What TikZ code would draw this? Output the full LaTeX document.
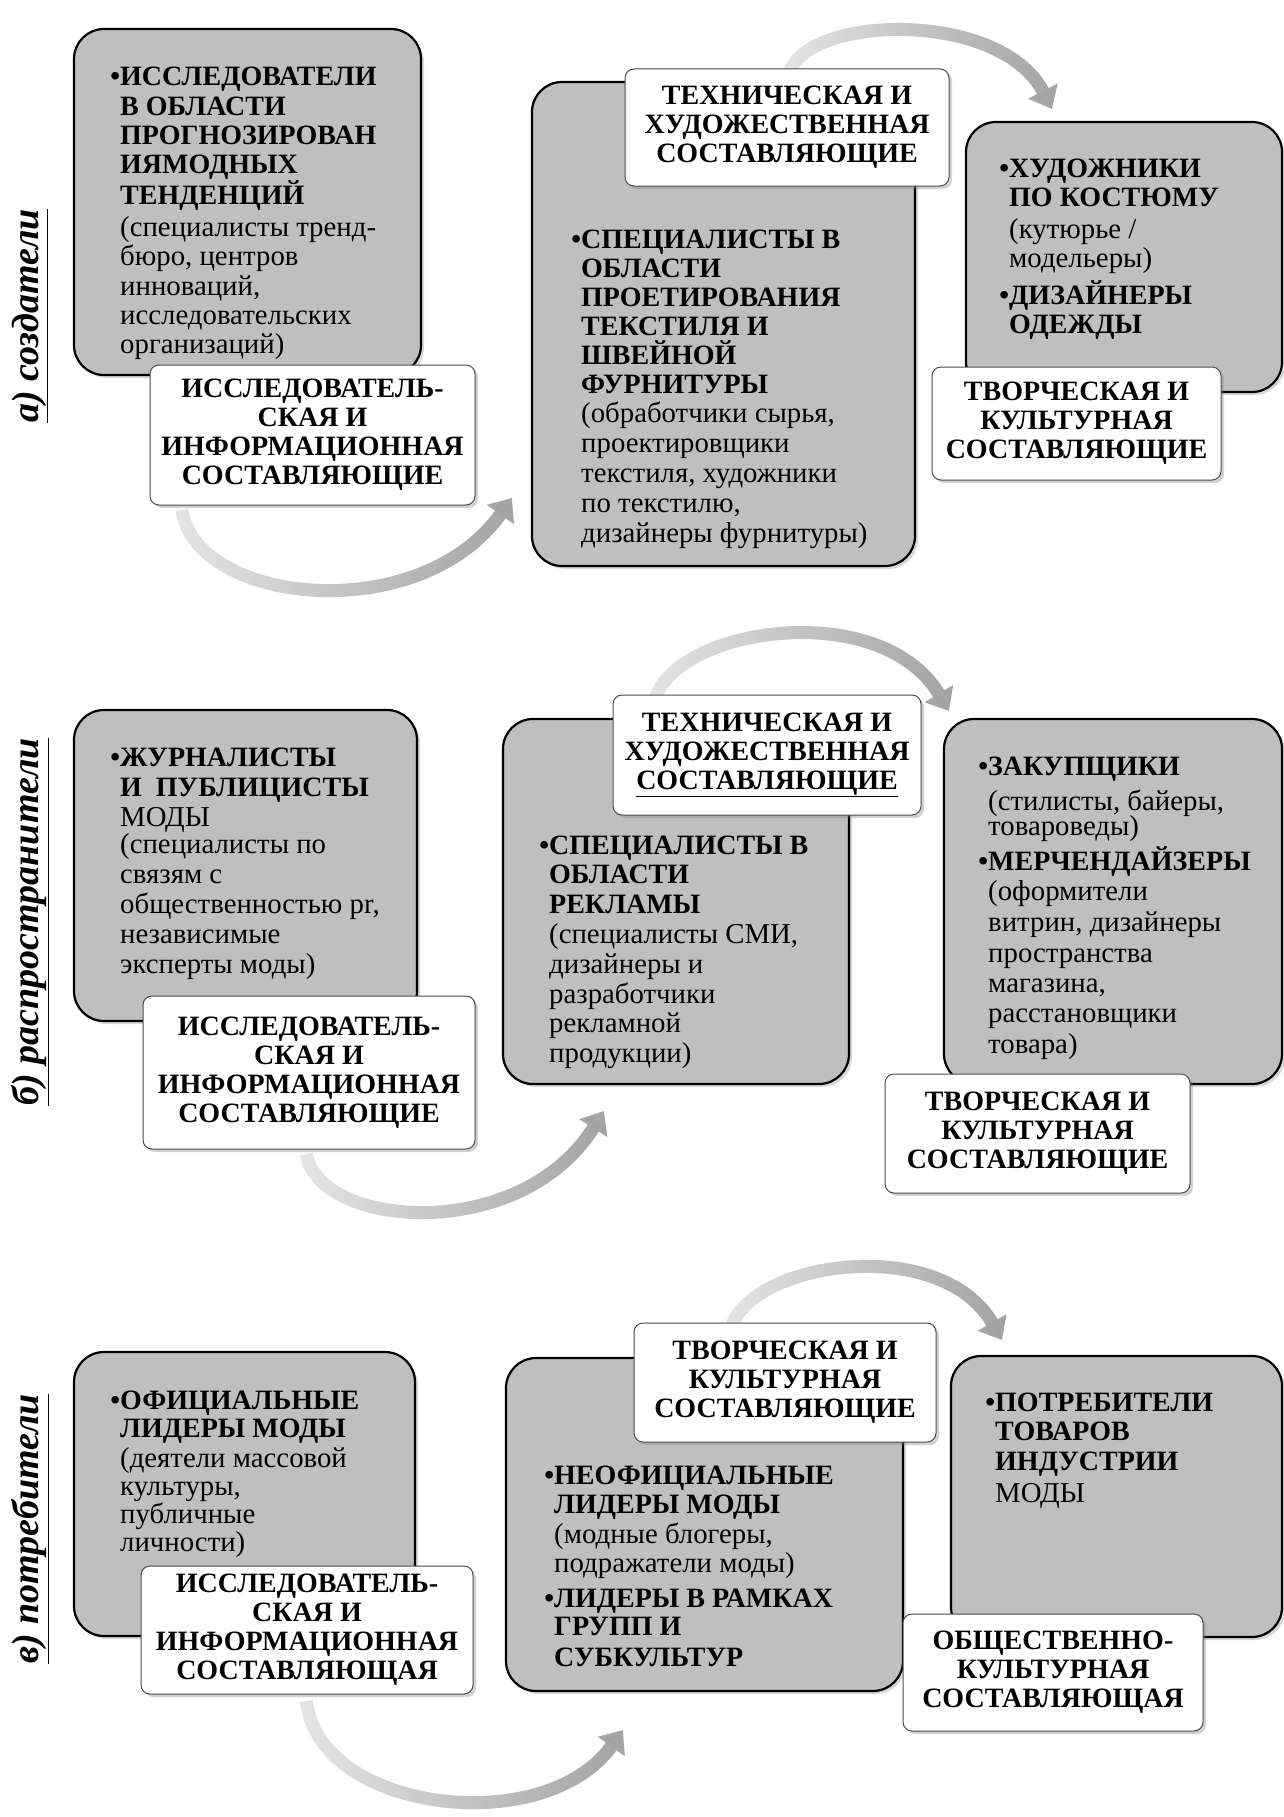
\documentclass[tikz,border=0pt]{standalone}
\usepackage{fontspec}
\setmainfont{Liberation Serif}
\usetikzlibrary{shadows,arrows.meta,calc,fadings}
\newcommand{\bul}{\leavevmode\llap{•}}
\newcommand{\bsk}{29}
\newcommand{\bd}{\bfseries\fontsize{28}{\bsk}\selectfont}
\newcommand{\rg}{\mdseries\fontsize{28.8}{\bsk}\selectfont}
\newcommand{\blk}[2]{\parbox[t]{300pt}{\renewcommand{\bsk}{#1}\raggedright\bd #2}}
\tikzset{
 graybox/.style={draw=black, line width=2.2pt, fill=black!25, rounded corners=30pt,
   drop shadow={shadow xshift=3pt, shadow yshift=-3pt, opacity=0.3}},
 whitebox/.style={draw=black!70, line width=1pt, fill=white, rounded corners=9pt,
   drop shadow={shadow xshift=3pt, shadow yshift=-3pt, opacity=0.35},
   align=center, inner sep=0pt, font=\bfseries\fontsize{28}{29}\selectfont},
 bodytext/.style={anchor=base west, inner sep=0pt},
 bandshade/.style={draw=black!36, path fading=west},
 band/.style={line width=13pt, draw=black!10, -{Triangle[length=20pt,width=32pt]},
   postaction={bandshade}},
 sidelabel/.style={rotate=90, inner sep=0pt, font=\bfseries\itshape\fontsize{38}{38}\selectfont},
}
\begin{document}
\begin{tikzpicture}[x=1pt,y=-1pt]
\fill[white] (0,0) rectangle (1284,1817);
\useasboundingbox (0,0) rectangle (1284,1817);

% ---------- side labels
\node[sidelabel] (La) at (30,316) {\underline{а) создатели}};
\node[sidelabel] (Lb) at (30,922) {\underline{б) распространители}};
\node[sidelabel] (Lc) at (30,1529) {\underline{в) потребители}};

% ---------- gray boxes
\node[graybox, minimum width=347pt, minimum height=346pt] (A1) at (247.5,202) {};
\node[graybox, minimum width=383pt, minimum height=484pt] (A2) at (723.5,324) {};
\node[graybox, minimum width=316pt, minimum height=270pt] (A3) at (1124,257) {};
\node[graybox, minimum width=343pt, minimum height=311pt] (B1) at (245.5,865.5) {};
\node[graybox, minimum width=346pt, minimum height=365pt] (B2) at (676,901.5) {};
\node[graybox, minimum width=338pt, minimum height=365pt] (B3) at (1113,901.5) {};
\node[graybox, minimum width=341pt, minimum height=284pt] (C1) at (244.5,1494) {};
\node[graybox, minimum width=397pt, minimum height=333pt] (C2) at (704.5,1524.5) {};
\node[graybox, minimum width=331pt, minimum height=281pt] (C3) at (1116.5,1496.5) {};

% ---------- body texts
\node[bodytext] (A1t) at (120,86) {\blk{29.2}{\bul ИССЛЕДОВАТЕЛИ\\ В ОБЛАСТИ\\ ПРОГНОЗИРОВАН\\ ИЯМОДНЫХ\\ ТЕНДЕНЦИЙ\\[3pt] \rg (специалисты тренд-\\ бюро, центров\\ инноваций,\\ исследовательских\\ организаций)}};
\node[bodytext] (A2t) at (581,248) {\blk{29}{\bul СПЕЦИАЛИСТЫ В\\ ОБЛАСТИ\\ ПРОЕТИРОВАНИЯ\\ ТЕКСТИЛЯ И\\ ШВЕЙНОЙ\\ ФУРНИТУРЫ\\ \rg (обработчики сырья,\\[1pt] проектировщики\\[1pt] текстиля, художники\\[1pt] по текстилю,\\[1pt] дизайнеры фурнитуры)}};
\node[bodytext] (A3t) at (1009,177) {\blk{29}{\bul ХУДОЖНИКИ\\ ПО КОСТЮМУ\\[3pt] \rg (кутюрье /\\ модельеры)\\[7pt] \bd\bul ДИЗАЙНЕРЫ\\ ОДЕЖДЫ}};
\node[bodytext] (B1t) at (120,766) {\blk{30}{\bul ЖУРНАЛИСТЫ\\ И\enspace ПУБЛИЦИСТЫ\\ \rg МОДЫ\\[-3pt] (специалисты по\\ связям с\\ общественностью pr,\\ независимые\\ эксперты моды)}};
\node[bodytext] (B2t) at (549,854) {\blk{29.8}{\bul СПЕЦИАЛИСТЫ В\\ ОБЛАСТИ\\ РЕКЛАМЫ\\ \rg (специалисты СМИ,\\ дизайнеры и\\ разработчики\\ рекламной\\ продукции)}};
\node[bodytext] (B3t) at (988,775) {\blk{30}{\bul ЗАКУПЩИКИ\\[5pt] \rg (стилисты, байеры,\\[-5pt] товароведы)\\[5pt] \bd\bul МЕРЧЕНДАЙЗЕРЫ\\ \rg (оформители\\[1pt] витрин, дизайнеры\\[1pt] пространства\\ магазина,\\ расстановщики\\[1pt] товара)}};
\node[bodytext] (C1t) at (120,1409) {\blk{28}{\bul ОФИЦИАЛЬНЫЕ\\ ЛИДЕРЫ МОДЫ\\[2pt] \rg (деятели массовой\\ культуры,\\ публичные\\ личности)}};
\node[bodytext] (C2t) at (554,1484) {\blk{29}{\bul НЕОФИЦИАЛЬНЫЕ\\ ЛИДЕРЫ МОДЫ\\[1pt] \rg (модные блогеры,\\ подражатели моды)\\[6pt] \bd\bul ЛИДЕРЫ В РАМКАХ\\[-1pt] ГРУПП И\\[2pt] СУБКУЛЬТУР}};
\node[bodytext] (C3t) at (995,1411) {\blk{29.5}{\bul ПОТРЕБИТЕЛИ\\ ТОВАРОВ\\ ИНДУСТРИИ\\[3pt] \rg МОДЫ}};

% ---------- curved arrows (behind white boxes)
\coordinate (a1s) at ($(A1.south west)+(109,134)$);
\draw[band] (a1s) .. controls (196,605) and (420,628) .. ($(A2.south west)+(-19,-69)$);
\coordinate (a2s) at ($(A2.north west)+(258,-6)$);
\draw[band] (a2s) .. controls (802,15) and (1000,8) .. ($(A3.north west)+(87,-12)$);
\coordinate (b1s) at ($(B1.south)+(61,132)$);
\draw[band] (b1s) .. controls (318,1228) and (520,1245) .. ($(B2.south west)+(102,26)$);
\coordinate (b2s) at ($(B2.north west)+(152,-14)$);
\draw[band] (b2s) .. controls (668,628) and (880,595) .. ($(B3.north west)+(6,-7)$);
\coordinate (c1s) at ($(C1.south)+(62,64)$);
\draw[band] (c1s) .. controls (318,1812) and (545,1840) .. ($(C2.south west)+(118,38)$);
\coordinate (c2s) at ($(C2.north west)+(225,-25)$);
\draw[band] (c2s) .. controls (744,1262) and (940,1232) .. ($(C3.north west)+(52,-15)$);

% ---------- white boxes
\node[whitebox, minimum width=325pt, minimum height=140pt] (A1w) at (312.5,435) {ИССЛЕДОВАТЕЛЬ-\\СКАЯ И\\ИНФОРМАЦИОННАЯ\\СОСТАВЛЯЮЩИЕ};
\node[whitebox, minimum width=324pt, minimum height=117pt] (A2w) at (787,127.5) {ТЕХНИЧЕСКАЯ И\\ХУДОЖЕСТВЕННАЯ\\СОСТАВЛЯЮЩИЕ};
\node[whitebox, minimum width=289pt, minimum height=113pt] (A3w) at (1076.5,423.5) {ТВОРЧЕСКАЯ И\\КУЛЬТУРНАЯ\\СОСТАВЛЯЮЩИЕ};
\node[whitebox, minimum width=332pt, minimum height=153pt] (B1w) at (309,1072.5) {ИССЛЕДОВАТЕЛЬ-\\СКАЯ И\\ИНФОРМАЦИОННАЯ\\СОСТАВЛЯЮЩИЕ};
\node[whitebox, minimum width=308pt, minimum height=120pt] (B2w) at (767,755) {ТЕХНИЧЕСКАЯ И\\ХУДОЖЕСТВЕННАЯ\\\underline{СОСТАВЛЯЮЩИЕ}};
\node[whitebox, minimum width=305pt, minimum height=119pt] (B3w) at (1037.5,1133.5) {ТВОРЧЕСКАЯ И\\КУЛЬТУРНАЯ\\СОСТАВЛЯЮЩИЕ};
\node[whitebox, minimum width=332pt, minimum height=128pt] (C1w) at (307,1630) {ИССЛЕДОВАТЕЛЬ-\\СКАЯ И\\ИНФОРМАЦИОННАЯ\\СОСТАВЛЯЮЩАЯ};
\node[whitebox, minimum width=302pt, minimum height=119pt] (C2w) at (785,1382.5) {ТВОРЧЕСКАЯ И\\КУЛЬТУРНАЯ\\СОСТАВЛЯЮЩИЕ};
\node[whitebox, minimum width=300pt, minimum height=117pt] (C3w) at (1053,1672.5) {ОБЩЕСТВЕННО-\\КУЛЬТУРНАЯ\\СОСТАВЛЯЮЩАЯ};
\end{tikzpicture}
\end{document}
